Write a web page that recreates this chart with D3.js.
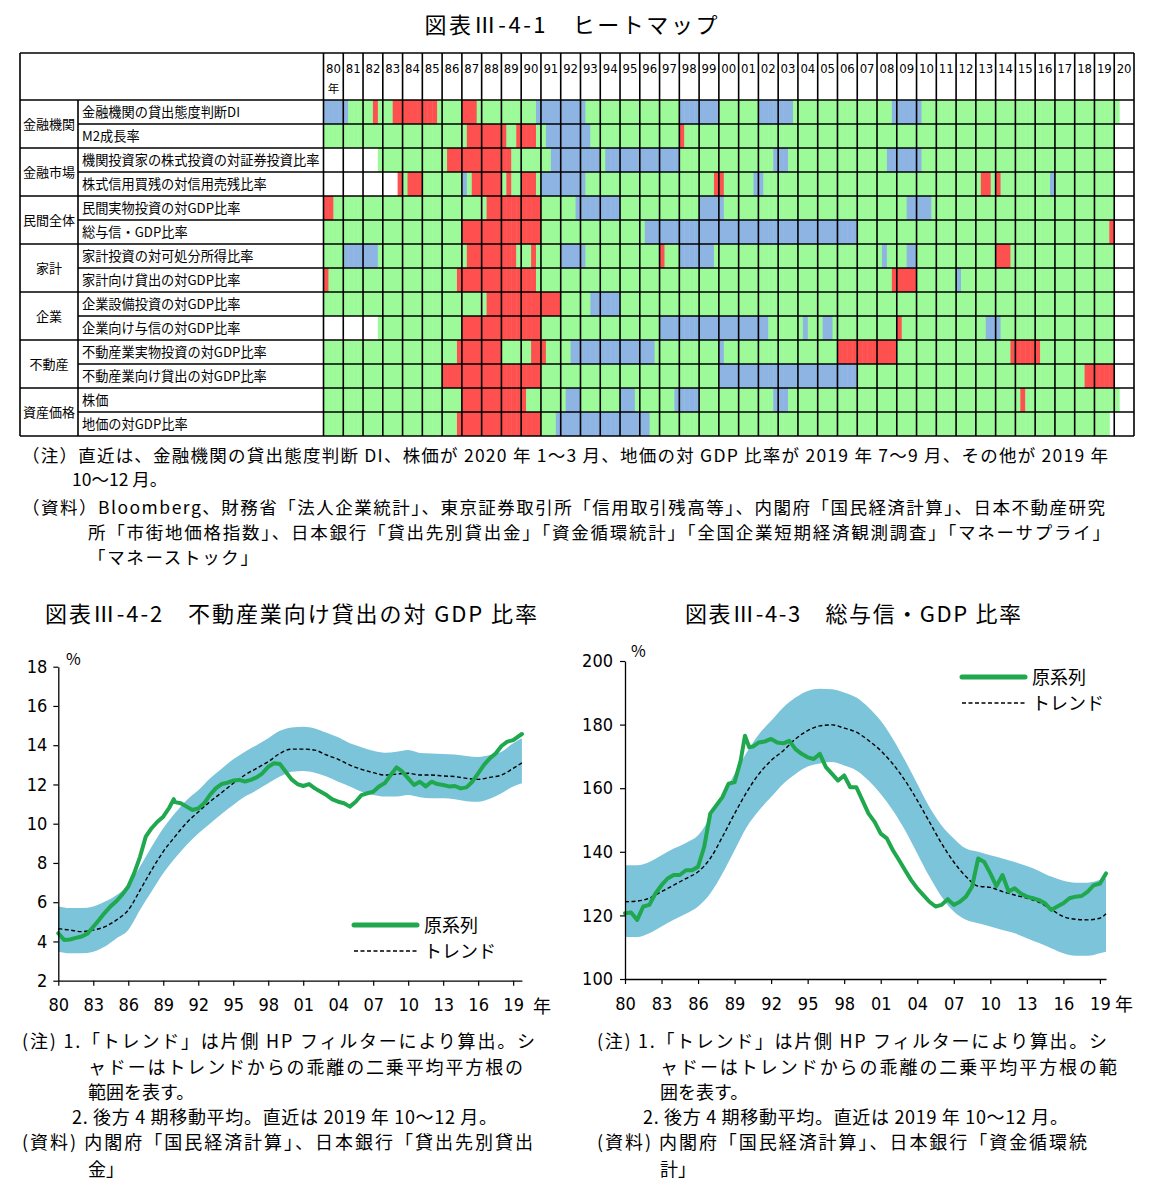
<!DOCTYPE html>
<html><head><meta charset="utf-8">
<script src="https://cdn.jsdelivr.net/npm/d3@7"></script>
<style>
body{margin:0;background:#fff;}
svg{display:block;}
text{font-family:"Noto Sans CJK JP","Noto Sans",sans-serif;fill:#000;}
.num{font-family:"Liberation Sans Narrow","DejaVu Sans Condensed","Roboto",sans-serif;}
</style></head><body>
<svg id="c" width="1157" height="1200"></svg>
<script>
// ---------- Heatmap data ----------
const yearLabels = ["80","81","82","83","84","85","86","87","88","89","90","91","92","93","94","95","96","97","98","99","00","01","02","03","04","05","06","07","08","09","10","11","12","13","14","15","16","17","18","19","20"];
const groups = [["金融機関",2],["金融市場",2],["民間全体",2],["家計",2],["企業",2],["不動産",2],["資産価格",2]];
const items = ["金融機関の貸出態度判断DI","M2成長率","機関投資家の株式投資の対証券投資比率","株式信用買残の対信用売残比率","民間実物投資の対GDP比率","総与信・GDP比率","家計投資の対可処分所得比率","家計向け貸出の対GDP比率","企業設備投資の対GDP比率","企業向け与信の対GDP比率","不動産業実物投資の対GDP比率","不動産業向け貸出の対GDP比率","株価","地価の対GDP比率"];
// quarterly state per year (g: green, b: blue, r: red, w: blank); unspecified years = gggg
const heatRows = [
"80:bbbb 81:bggg 82:ggrg 83:ggrr 84:rrrr 85:rrrg 87:rrrg 90:gggb 91:bbbb 92:bbbb 93:bggg 98:bbbb 99:bbbb 02:bbbb 03:bbbg 08:gggb 09:bbbb 10:bggg 20:gwww",
"87:grrr 88:rrrr 89:rggr 90:rrrg 91:gbbb 92:bbbb 93:bbgg 98:rggg 20:wwww",
"80:wwww 81:wwww 82:wwwg 86:grrr 87:rrrr 88:rrrr 89:rrgg 91:ggbb 92:bbbb 93:bbbb 94:gbbb 95:bbbb 96:bbbb 97:bbbb 02:gggb 03:bbgg 08:ggbb 09:bbbb 10:bggg 20:wwww",
"80:wwww 81:wwww 82:wwww 83:wwwr 84:grrr 87:bgrr 88:rrrr 89:grgg 90:rrrg 91:bbbb 92:bbbb 93:bggg 99:gggr 00:rggg 01:gggb 02:bggg 13:grrg 14:rggg 16:gggb 20:wwww",
"80:rrgg 88:grrr 89:rrrr 90:rrrr 92:gggb 93:bbbb 94:bbbb 99:bbbb 00:bggg 09:ggbb 10:bbbg 20:wwww",
"87:rrrr 88:rrrr 89:rrrr 90:rrrr 96:gbbb 97:bbbb 98:bbbb 99:bbbb 00:bbbb 01:bbbb 02:bbbb 03:bbbb 04:bbbb 05:bbbb 06:bbbb 19:gggr 20:wwww",
"81:bbbb 82:bbbg 87:grrr 88:rrrr 89:rrrg 90:ggrg 92:bbbb 93:bggg 97:rggg 98:bbbb 99:bbbg 08:gbgg 09:ggbb 14:rrrg 20:wwww",
"80:rggg 86:gggr 87:rrrr 88:rrrr 89:rrrr 90:rrrg 08:gggr 09:rrrr 12:bggg 20:wwww",
"88:grrr 89:rrrr 90:rrrr 91:rrrr 93:ggbb 94:bbbb 20:wwww",
"80:wwww 81:wwww 82:wwwg 87:rrrr 88:rrrr 89:rrrr 90:rrrr 97:bbbb 98:bbbb 99:bbbb 00:bbbb 01:bbbb 02:bbgg 04:gbgg 05:gbbg 09:rggg 13:ggbb 14:bggg 20:wwww",
"86:gggr 87:rrrr 88:rrrr 90:ggrr 91:rggg 92:ggbb 93:bbbb 94:bbbb 95:bbbb 96:bbbg 00:bggg 06:rrrr 07:rrrr 08:rrrr 14:gggr 15:rrrr 16:rggg 20:wwww",
"86:rrrr 87:rrrr 88:rrrr 89:rrrr 90:rrrr 00:bbbb 01:bbbb 02:bbbb 03:bbbb 04:bbbb 05:bbbb 06:bbbb 18:ggrr 19:rrrr 20:wwww",
"87:rrrr 88:rrrr 89:rrrr 90:rggg 92:gbbb 95:bbbg 97:gggb 98:bbbb 02:gggb 03:bbgg 15:grgg 20:gwww",
"86:gggr 87:rrrr 88:rrrr 89:rrrr 90:rrrr 91:gggb 92:bbbb 93:bbbb 94:bbbb 95:bbbb 96:bbgg 19:gggw 20:wwww"
];

// ---------- Chart 2: 不動産業向け貸出の対GDP比率 ----------
const reRaw = [[1980,4.42],[1980.5,4.08],[1981,4.1],[1981.5,4.18],[1982,4.25],[1982.5,4.4],[1983,4.75],[1983.5,5.1],[1984,5.47],[1984.5,5.8],[1985,6.06],[1985.5,6.4],[1986,6.8],[1986.5,7.47],[1987,8.3],[1987.5,9.34],[1988,9.77],[1988.5,10.1],[1989,10.36],[1989.5,10.8],[1989.9,11.25],[1990,11.1],[1990.5,11.04],[1991,10.87],[1991.5,10.7],[1992,10.78],[1992.5,11.04],[1993,11.46],[1993.5,11.8],[1994,12.02],[1994.5,12.09],[1995,12.2],[1995.5,12.23],[1996,12.15],[1996.5,12.23],[1997,12.36],[1997.5,12.57],[1998,12.9],[1998.5,13.08],[1999,13.04],[1999.5,12.65],[2000,12.26],[2000.5,12.02],[2001,11.92],[2001.5,12.02],[2002,11.8],[2002.5,11.63],[2003,11.46],[2003.5,11.24],[2004,11.12],[2004.5,11.04],[2005,10.87],[2005.5,11.12],[2006,11.46],[2006.5,11.55],[2007,11.63],[2007.5,11.9],[2008,12.07],[2008.5,12.48],[2009,12.87],[2009.5,12.65],[2010,12.31],[2010.5,11.97],[2011,12.14],[2011.5,11.9],[2012,12.14],[2012.5,12.02],[2013,11.97],[2013.5,11.9],[2014,11.92],[2014.5,11.8],[2015,11.85],[2015.5,12.14],[2016,12.57],[2016.5,13.0],[2017,13.33],[2017.5,13.58],[2018,13.96],[2018.5,14.18],[2019,14.26],[2019.75,14.57]];
const reTrend = [[1980,4.65],[1981,4.58],[1982,4.5],[1983,4.58],[1984,4.75],[1985,5.1],[1986,5.6],[1987,6.6],[1988,7.64],[1989,8.58],[1990,9.34],[1991,10.05],[1992,10.6],[1993,11.12],[1994,11.58],[1995,12.06],[1996,12.48],[1997,12.82],[1998,13.16],[1999,13.58],[2000,13.8],[2001,13.8],[2002,13.75],[2003,13.5],[2004,13.28],[2005,12.99],[2006,12.77],[2007,12.6],[2008,12.48],[2009,12.53],[2010,12.57],[2011,12.48],[2012,12.48],[2013,12.43],[2014,12.4],[2015,12.31],[2016,12.26],[2017,12.36],[2018,12.48],[2019,12.82],[2019.75,13.1]];
const reUpper = [[1980,5.78],[1981,5.7],[1982,5.7],[1983,5.78],[1984,6.03],[1985,6.37],[1986,6.88],[1987,7.81],[1988,8.83],[1989,9.77],[1990,10.53],[1991,11.2],[1992,11.7],[1993,12.3],[1994,12.8],[1995,13.28],[1996,13.67],[1997,14.0],[1998,14.35],[1999,14.73],[2000,14.9],[2001,14.94],[2002,14.85],[2003,14.63],[2004,14.4],[2005,14.1],[2006,13.9],[2007,13.72],[2008,13.62],[2009,13.67],[2010,13.75],[2011,13.6],[2012,13.58],[2013,13.55],[2014,13.52],[2015,13.45],[2016,13.4],[2017,13.5],[2018,13.67],[2019,14.1],[2019.75,14.35]];
const reLower = [[1980,3.48],[1981,3.4],[1982,3.4],[1983,3.48],[1984,3.74],[1985,4.16],[1986,4.58],[1987,5.6],[1988,6.54],[1989,7.47],[1990,8.24],[1991,8.92],[1992,9.5],[1993,10.0],[1994,10.5],[1995,10.95],[1996,11.38],[1997,11.7],[1998,12.06],[1999,12.4],[2000,12.65],[2001,12.69],[2002,12.6],[2003,12.4],[2004,12.14],[2005,11.9],[2006,11.63],[2007,11.46],[2008,11.38],[2009,11.38],[2010,11.46],[2011,11.35],[2012,11.3],[2013,11.3],[2014,11.25],[2015,11.15],[2016,11.12],[2017,11.27],[2018,11.55],[2019,11.9],[2019.75,12.06]];

// ---------- Chart 3: 総与信・GDP比率 ----------
const totRaw = [[1980,120.7],[1980.5,120.9],[1981,118.6],[1981.5,122.8],[1982,123.3],[1982.5,126.9],[1983,129.5],[1983.5,131.6],[1984,132.7],[1984.5,132.7],[1985,134.2],[1985.5,134.2],[1986,135.3],[1986.5,141.5],[1987,152],[1987.5,154.6],[1988,157.2],[1988.5,161.4],[1989,161.9],[1989.5,168.7],[1989.85,176.5],[1990.2,172.9],[1990.5,173.1],[1991,174.4],[1991.5,174.7],[1992,175.5],[1992.5,174.4],[1993,174.1],[1993.5,174.9],[1994,172.3],[1994.5,170.8],[1995,169.7],[1995.5,169.2],[1996,170.8],[1996.5,166.6],[1997,164.5],[1997.5,162.4],[1998,164],[1998.5,160.3],[1999,160.3],[1999.5,156.2],[2000,152],[2000.5,149.4],[2001,145.7],[2001.5,144.2],[2002,140.5],[2002.5,137.4],[2003,134.2],[2003.5,131.1],[2004,128.5],[2004.5,126.4],[2005,124.3],[2005.5,122.8],[2006,123.3],[2006.5,125.1],[2007,123.3],[2007.5,124.3],[2008,125.9],[2008.5,129],[2009,137.9],[2009.5,136.8],[2010,133.2],[2010.5,129.2],[2011,132.7],[2011.5,127.5],[2012,128.5],[2012.5,126.9],[2013,125.9],[2013.5,125.4],[2014,124.8],[2014.5,123.8],[2015,121.7],[2015.5,122.8],[2016,123.8],[2016.5,125.4],[2017,125.9],[2017.5,126.1],[2018,127.5],[2018.5,129.5],[2019,130],[2019.5,133.2]];
const totTrend = [[1980,124.3],[1981,124.5],[1982,125.4],[1983,127.5],[1984,129.5],[1985,131.6],[1986,133.7],[1987,137.9],[1988,144.7],[1989,152],[1990,158.8],[1991,164.5],[1992,168.7],[1993,171.8],[1994,175.5],[1995,178.1],[1996,179.6],[1997,179.9],[1998,178.9],[1999,177.6],[2000,175],[2001,171.8],[2002,167.6],[2003,162.4],[2004,156.2],[2005,149.4],[2006,142.6],[2007,136.8],[2008,132.2],[2009,129.2],[2010,128.8],[2011,127.5],[2012,126.4],[2013,125.4],[2014,124.1],[2015,121.9],[2016,119.6],[2017,118.8],[2018,118.6],[2019,119.1],[2019.5,120.5]];
const totUpper = [[1980,135.8],[1981,135.8],[1982,136.8],[1983,138.9],[1984,141],[1985,142.8],[1986,145.2],[1987,150.9],[1988,157.7],[1989,164.5],[1990,171.3],[1991,177],[1992,181.2],[1993,185.4],[1994,188.5],[1995,190.6],[1996,191.3],[1997,191.1],[1998,190.1],[1999,188.5],[2000,185.4],[2001,181.2],[2002,175.5],[2003,168.7],[2004,161.4],[2005,154.1],[2006,148.3],[2007,144.2],[2008,141],[2009,140],[2010,138.9],[2011,137.9],[2012,136.8],[2013,135.5],[2014,134],[2015,132.2],[2016,130.9],[2017,130.3],[2018,130.3],[2019,131.1],[2019.5,131.6]];
const totLower = [[1980,113.2],[1981,113.2],[1982,114.4],[1983,116.5],[1984,118.6],[1985,120.5],[1986,122.8],[1987,126.9],[1988,133.2],[1989,140.5],[1990,147.8],[1991,153],[1992,157.2],[1993,161.4],[1994,164.5],[1995,166.8],[1996,167.8],[1997,168.2],[1998,167.1],[1999,165.6],[2000,162.4],[2001,158.2],[2002,153],[2003,146.8],[2004,139.5],[2005,132.2],[2006,125.9],[2007,121.2],[2008,118.6],[2009,117.5],[2010,116.5],[2011,115.4],[2012,114.4],[2013,112.8],[2014,111.3],[2015,109.7],[2016,108.1],[2017,107.3],[2018,107.3],[2019,108.1],[2019.5,108.6]];

const xTickYears = [1980,1983,1986,1989,1992,1995,1998,2001,2004,2007,2010,2013,2016,2019];
const reYTicks = [2,4,6,8,10,12,14,16,18];
const totYTicks = [100,120,140,160,180,200];

// ---------- Texts ----------
const heatTitle = "図表Ⅲ-4-1　ヒートマップ";
const heatNotes = [
 ["（注）直近は、金融機関の貸出態度判断 DI、株価が 2020 年 1～3 月、地価の対 GDP 比率が 2019 年 7～9 月、その他が 2019 年",22,462,1086],
 ["10～12 月。",72,486,0],
 ["（資料）Bloomberg、財務省「法人企業統計」、東京証券取引所「信用取引残高等」、内閣府「国民経済計算」、日本不動産研究",22,514,1083],
 ["所「市街地価格指数」、日本銀行「貸出先別貸出金」「資金循環統計」「全国企業短期経済観測調査」「マネーサプライ」",88,539,1022],
 ["「マネーストック」",88,564,170]
];
const chartNotesL = [
 ["(注) 1.「トレンド」は片側 HP フィルターにより算出。シ",22,1048,513],
 ["ャドーはトレンドからの乖離の二乗平均平方根の",88,1074,435],
 ["範囲を表す。",88,1099,0],
 ["2. 後方 4 期移動平均。直近は 2019 年 10～12 月。",72,1124,425],
 ["(資料) 内閣府「国民経済計算」、日本銀行「貸出先別貸出",22,1149,511],
 ["金」",88,1176,0]
];
const chartNotesR = [
 ["(注) 1.「トレンド」は片側 HP フィルターにより算出。シ",597,1048,510],
 ["ャドーはトレンドからの乖離の二乗平均平方根の範",660,1074,457],
 ["囲を表す。",660,1099,0],
 ["2. 後方 4 期移動平均。直近は 2019 年 10～12 月。",643,1124,425],
 ["(資料) 内閣府「国民経済計算」、日本銀行「資金循環統",597,1149,490],
 ["計」",660,1176,0]
];

// ================= drawing =================
const svg = d3.select("#c");
const colors = {g:"#9cfb98", b:"#8db4e2", r:"#ff5050"};

svg.append("text").attr("x",571).attr("y",33).attr("text-anchor","middle")
  .attr("font-size",22).attr("textLength",293).attr("lengthAdjust","spacing").text(heatTitle);

const T0 = 53, H1 = 100, B = 436, L0 = 20, L1 = 78, C0 = 323.5, C1 = 1134;
const xYear = d3.scaleBand().domain(yearLabels).range([C0, C1]);
const yRow = d3.scaleBand().domain(items).range([H1, B]);
const bw = xYear.bandwidth(), qw = bw/4, rh = yRow.bandwidth();

const cells = [];
heatRows.forEach((s, ri) => {
  const m = {};
  s.split(" ").forEach(t => { const [y, q] = t.split(":"); m[y] = q; });
  yearLabels.forEach(y => {
    const q = m[y] || "gggg";
    for (let k = 0; k < 4; k++) if (q[k] !== "w") cells.push({row: items[ri], year: y, k, c: q[k]});
  });
});
svg.append("g").selectAll("rect").data(cells).join("rect")
  .attr("x", d => xYear(d.year) + d.k*qw).attr("y", d => yRow(d.row))
  .attr("width", qw + 0.5).attr("height", rh).attr("fill", d => colors[d.c]);

const grid = svg.append("g").attr("stroke","#000").attr("stroke-width",1.6);
yearLabels.forEach(y => grid.append("line").attr("x1",xYear(y)).attr("x2",xYear(y)).attr("y1",T0).attr("y2",B));
[[C1,T0],[L0,T0],[L1,H1]].forEach(([x,y0]) => grid.append("line").attr("x1",x).attr("x2",x).attr("y1",y0).attr("y2",B));
grid.append("line").attr("x1",L0).attr("x2",C1).attr("y1",T0).attr("y2",T0);
grid.append("line").attr("x1",L0).attr("x2",C1).attr("y1",H1).attr("y2",H1);
let acc = 0;
const groupStarts = new Set();
groups.forEach(([g,n]) => { groupStarts.add(acc); acc += n; });
items.forEach((it, i) => {
  if (i === 0) return;
  const y = yRow(it);
  grid.append("line").attr("x1", groupStarts.has(i) ? L0 : L1).attr("x2", C1).attr("y1", y).attr("y2", y);
});
grid.append("line").attr("x1",L0).attr("x2",C1).attr("y1",B).attr("y2",B);

// header
svg.append("g").selectAll("text").data(yearLabels).join("text").attr("class","num")
  .attr("x", d => xYear(d) + bw/2).attr("y", 73).attr("text-anchor","middle").attr("font-size",13).text(d => d);
svg.append("text").attr("x", xYear("80") + bw/2).attr("y", 93).attr("text-anchor","middle").attr("font-size",11.5).text("年");

// labels
svg.append("g").selectAll("text").data(items).join("text")
  .attr("x", 82).attr("y", d => yRow(d) + rh/2 + 4.7).attr("font-size", 13.2).text(d => d);
acc = 0;
groups.forEach(([g,n]) => {
  const yc = yRow(items[acc]) + n*rh/2;
  svg.append("text").attr("x",(L0+L1)/2).attr("y",yc+4.7).attr("text-anchor","middle").attr("font-size",13).text(g);
  acc += n;
});

function notes(arr, size) {
  arr.forEach(([t,x,y,w]) => {
    const e = svg.append("text").attr("x",x).attr("y",y).attr("font-size",size).text(t);
    if (w) e.attr("textLength",w).attr("lengthAdjust","spacing");
  });
}
notes(heatNotes, 17.5);

// ============ line charts ============
function lineChart(o) {
  const g = svg.append("g");
  const x = d3.scaleLinear().domain(o.xDomain).range(o.xRange);
  const y = d3.scaleLinear().domain(o.yDomain).range(o.yRange);
  const band = o.upper.map((d,i) => ({t:d[0], hi:d[1], lo:o.lower[i][1]}));
  g.append("path").datum(band).attr("fill","#7cc4da")
    .attr("d", d3.area().x(d => x(d.t)).y0(d => y(d.lo)).y1(d => y(d.hi)).curve(d3.curveMonotoneX));
  g.append("path").datum(o.trend).attr("fill","none").attr("stroke","#000").attr("stroke-width",1.4)
    .attr("stroke-dasharray","4,2.5")
    .attr("d", d3.line().x(d => x(d[0])).y(d => y(d[1])).curve(d3.curveMonotoneX));
  g.append("path").datum(o.raw).attr("fill","none").attr("stroke","#20a84e").attr("stroke-width",4)
    .attr("stroke-linejoin","round").attr("stroke-linecap","round")
    .attr("d", d3.line().x(d => x(d[0])).y(d => y(d[1])));
  const ax = g.append("g").attr("transform",`translate(0,${o.yRange[0]})`)
    .call(d3.axisBottom(x).tickValues(xTickYears).tickFormat(d => String(d).slice(2)).tickSize(5).tickSizeOuter(0));
  ax.selectAll("text").attr("class","num").attr("font-size",18).attr("y",18).attr("fill","#000");
  const ay = g.append("g").attr("transform",`translate(${o.xRange[0]},0)`)
    .call(d3.axisLeft(y).tickValues(o.yTicks).tickSize(5).tickSizeOuter(0).tickPadding(o.pad));
  ay.selectAll("text").attr("class","num").attr("font-size",18).attr("fill","#000");
  [ax, ay].forEach(a => { a.select(".domain").attr("stroke","#000").attr("stroke-width",1.3); a.selectAll(".tick line").attr("stroke","#000").attr("stroke-width",1.2); a.attr("font-family",null); });
  g.append("text").attr("x",o.pct[0]).attr("y",o.pct[1]).attr("font-size",16).text("%");
  g.append("text").attr("x",o.nen[0]).attr("y",o.nen[1]).attr("font-size",18).text("年");
  const [lx, ly] = o.legend;
  g.append("line").attr("x1",lx).attr("x2",lx+63).attr("y1",ly).attr("y2",ly).attr("stroke","#20a84e").attr("stroke-width",5).attr("stroke-linecap","round");
  g.append("text").attr("x",lx+70).attr("y",ly+6.5).attr("font-size",18).text("原系列");
  g.append("line").attr("x1",lx).attr("x2",lx+63).attr("y1",ly+26).attr("y2",ly+26).attr("stroke","#000").attr("stroke-width",1.4).attr("stroke-dasharray","4,2.5");
  g.append("text").attr("x",lx+70).attr("y",ly+33).attr("font-size",18).text("トレンド");
  g.append("text").attr("x",o.title[1]).attr("y",622).attr("font-size",22).attr("textLength",o.title[2]).attr("lengthAdjust","spacing").text(o.title[0]);
}

lineChart({xDomain:[1980,2019.75], xRange:[58.3,521.9], yDomain:[2,18], yRange:[980.7,666.7], yTicks:reYTicks, pad:6,
  raw:reRaw, trend:reTrend, upper:reUpper, lower:reLower, pct:[66,665], nen:[533,1013], legend:[354,925],
  title:["図表Ⅲ-4-2　不動産業向け貸出の対 GDP 比率",45,492]});
lineChart({xDomain:[1980,2019.5], xRange:[625,1106], yDomain:[100,200], yRange:[979,661], yTicks:totYTicks, pad:7,
  raw:totRaw, trend:totTrend, upper:totUpper, lower:totLower, pct:[631,657], nen:[1115,1011], legend:[962,677],
  title:["図表Ⅲ-4-3　総与信・GDP 比率",685,336]});

notes(chartNotesL, 18);
notes(chartNotesR, 18);
</script>
</body></html>
